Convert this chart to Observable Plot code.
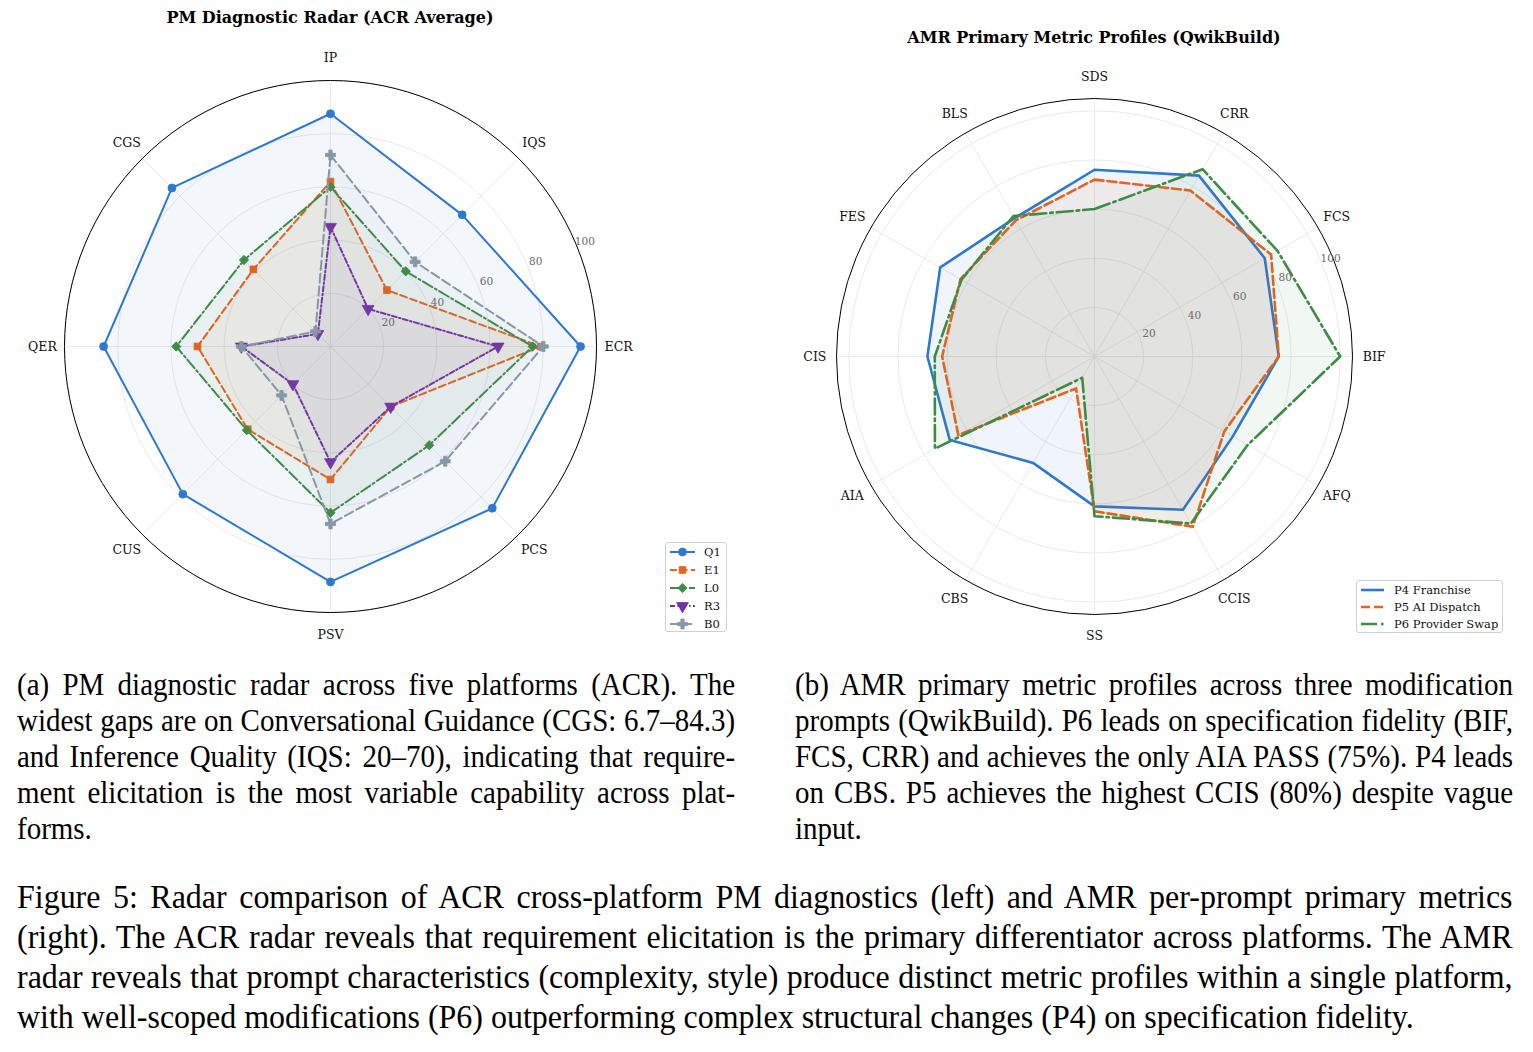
<!DOCTYPE html>
<html>
<head>
<meta charset="utf-8">
<script src="https://cdn.jsdelivr.net/npm/d3@7"></script>
<script src="https://cdn.jsdelivr.net/npm/@observablehq/plot@0.6"></script>
<style>
  html, body { margin: 0; padding: 0; background: #fff; }
  body { position: relative; width: 1533px; height: 1052px; overflow: hidden; }
  .abs { position: absolute; }
  .title { font-family: "DejaVu Serif"; font-weight: bold; font-size: 16px; color: #000;
           transform: translate(-50%, -50%); white-space: nowrap; }
  .cap { font-family: "Liberation Serif", "Times New Roman", serif; color: #000; transform-origin: 0 0; }
  .cap div { white-space: nowrap; text-align: justify; text-align-last: justify; }
  .cap div.last { text-align-last: left; }
  /* slightly condensed caption type, as set in the paper */
  .sub { font-size: 31px; line-height: 36px; width: 768px; transform: scaleX(0.935); }
  .fig { font-size: 34px; line-height: 40px; width: 1591px; transform: scaleX(0.94); }
  .legend { border: 1px solid #d0d0d0; border-radius: 3px; background: rgba(255,255,255,0.85);
            font-family: "DejaVu Serif"; font-size: 11.5px; color: #111; box-sizing: border-box; }
  .legend .row { position: absolute; left: 2px; display: flex; align-items: center; height: 14px; }
  .legend .row svg { display: block; }
  .legend .row span { white-space: nowrap; }
</style>
</head>
<body>
<script>
// ---------- ACR: PM diagnostic scores per platform ----------
const acrAxes = ["IP", "IQS", "ECR", "PCS", "PSV", "CUS", "QER", "CGS"];
const acrPlatforms = ["Q1", "E1", "L0", "R3", "B0"];
const acrQ1 = [87.5, 70, 94, 86, 88.5, 78.5, 85.3, 84.3];
const acrE1 = [62, 30, 79, 32, 50, 44, 50, 41];
const acrL0 = [60, 40, 76, 52.5, 62.5, 44.5, 58, 46];
const acrR3 = [45, 20, 63, 32, 43.5, 20, 33.5, 6.7];
const acrB0 = [72, 45, 80, 61, 66.7, 26, 33.5, 8];
const acrTicks = [20, 40, 60, 80, 100];

// ---------- AMR: primary metrics per modification prompt (QwikBuild) ----------
const amrAxes = ["SDS", "CRR", "FCS", "BIF", "AFQ", "CCIS", "SS", "CBS", "AIA", "CIS", "FES", "BLS"];
const amrPrompts = ["P4 Franchise", "P5 AI Dispatch", "P6 Provider Swap"];
const amrP4 = [76, 85, 80, 75, 65, 72, 61, 50, 68, 68, 72.5, 65];
const amrP5 = [72, 78, 83, 75, 61, 80, 63, 15, 64, 62, 63, 64];
const amrP6 = [60, 88, 86, 100, 72, 78.5, 65, 10, 75, 65, 62.5, 66];
const amrTicks = [20, 40, 60, 80, 100];

// downward-pointing triangle marker
const triangleDown = {
  draw(context, size) {
    const y = -Math.sqrt(size / (Math.sqrt(3) * 3));
    const s3 = Math.sqrt(3);
    context.moveTo(0, -y * 2);
    context.lineTo(-s3 * y, y);
    context.lineTo(s3 * y, y);
    context.closePath();
  }
};

function radarChart({axes, series, rMax, ticks, tickOffset, labelR, width, height, margin, fillOpacity}) {
  const n = axes.length;
  const ang = i => 2 * Math.PI * i / n;           // clockwise from the top
  const px = (v, i) => v * Math.sin(ang(i));
  const py = (v, i) => v * Math.cos(ang(i));
  const R = (width - margin.left - margin.right) / 2;
  const tickAng = 67.5 * Math.PI / 180;

  const marks = [
    // grid rings and spokes
    Plot.dot(ticks, {x: () => 0, y: () => 0, r: d => d, fill: "none", stroke: "#e4e4e4", strokeWidth: 0.8}),
    Plot.link(axes, {x1: () => 0, y1: () => 0, x2: (d, i) => px(rMax, i), y2: (d, i) => py(rMax, i),
                     stroke: "#e4e4e4", strokeWidth: 0.8}),
    // outer frame
    Plot.dot([rMax], {x: () => 0, y: () => 0, r: d => d, fill: "none", stroke: "#000", strokeWidth: 1})
  ];

  for (const s of series) {
    const rows = s.values.map((v, i) => ({v, i}));
    marks.push(Plot.line(rows, {
      x: d => px(d.v, d.i), y: d => py(d.v, d.i), curve: "linear-closed",
      stroke: s.color, strokeWidth: s.width, strokeDasharray: s.dash, strokeOpacity: s.opacity ?? 1,
      fill: s.color, fillOpacity, strokeLinejoin: "round"
    }));
    if (s.symbol) {
      marks.push(Plot.dot(rows, {
        x: d => px(d.v, d.i), y: d => py(d.v, d.i), symbol: s.symbol, r: s.r ?? 4,
        fill: s.color, stroke: s.color, strokeWidth: 0.8, fillOpacity: s.opacity ?? 1
      }));
    }
  }

  marks.push(
    Plot.text(ticks, {x: d => (d + tickOffset) * Math.sin(tickAng), y: d => (d + tickOffset) * Math.cos(tickAng),
                      text: d => String(d), fontSize: 10.5, fill: "#6a6a6a"}),
    Plot.text(axes, {x: (d, i) => px(labelR, i), y: (d, i) => py(labelR, i), text: d => d,
                     fontSize: 12.5, fill: "#111"})
  );

  return Plot.plot({
    width, height,
    marginLeft: margin.left, marginRight: margin.right, marginTop: margin.top, marginBottom: margin.bottom,
    x: {domain: [-rMax, rMax], axis: null},
    y: {domain: [-rMax, rMax], axis: null},
    r: {type: "linear", domain: [0, rMax], range: [0, R]},
    style: {fontFamily: "DejaVu Serif", background: "transparent", overflow: "visible"},
    marks
  });
}

const acrColors = ["#2f78cf", "#e8621f", "#3d8b45", "#7232a6", "#8797a6"];
const acrSeries = [
  {name: "Q1", values: acrQ1, color: acrColors[0], width: 2, dash: null, symbol: "circle", r: 4},
  {name: "E1", values: acrE1, color: acrColors[1], width: 2, dash: "7,3.5", symbol: "square", r: 3.8},
  {name: "L0", values: acrL0, color: acrColors[2], width: 2, dash: "11,3,2,3", symbol: "diamond2", r: 4.2},
  {name: "R3", values: acrR3, color: acrColors[3], width: 2, dash: "5,2.5,1.5,2.5", symbol: triangleDown, r: 4.4},
  {name: "B0", values: acrB0, color: acrColors[4], width: 2, dash: "9,4", symbol: "cross", r: 4.2}
];

const amrColors = ["#2f78cf", "#e8621f", "#3d8b45"];
const amrSeries = [
  {name: amrPrompts[0], values: amrP4, color: amrColors[0], width: 2.6, dash: null},
  {name: amrPrompts[1], values: amrP5, color: amrColors[1], width: 2.6, dash: "9,4"},
  {name: amrPrompts[2], values: amrP6, color: amrColors[2], width: 2.6, dash: "16,4,2.5,4"}
];

const left = radarChart({
  axes: acrAxes, series: acrSeries, rMax: 100, ticks: acrTicks, tickOffset: 3.5, labelR: 108.3,
  width: 760, height: 650, margin: {left: 64, right: 164, top: 80, bottom: 38}, fillOpacity: 0.06
});
left.style.position = "absolute"; left.style.left = "0px"; left.style.top = "0px";
document.body.appendChild(left);

const right = radarChart({
  axes: amrAxes, series: amrSeries, rMax: 105, ticks: amrTicks, tickOffset: 4, labelR: 113.8,
  width: 773, height: 650, margin: {left: 76, right: 181, top: 98, bottom: 36}, fillOpacity: 0.07
});
right.style.position = "absolute"; right.style.left = "760px"; right.style.top = "0px";
document.body.appendChild(right);

// ---------- titles ----------
function addDiv(cls, text, x, y) {
  const d = document.createElement("div");
  d.className = "abs " + cls;
  d.textContent = text;
  d.style.left = x + "px"; d.style.top = y + "px";
  document.body.appendChild(d);
  return d;
}
addDiv("title", "PM Diagnostic Radar (ACR Average)", 330, 17);
addDiv("title", "AMR Primary Metric Profiles (QwikBuild)", 1094, 37);

// ---------- legends ----------
function swatch(s, w) {
  const ns = "http://www.w3.org/2000/svg";
  const svg = document.createElementNS(ns, "svg");
  svg.setAttribute("width", w); svg.setAttribute("height", 14);
  const ln = document.createElementNS(ns, "line");
  ln.setAttribute("x1", 2); ln.setAttribute("x2", w - 2); ln.setAttribute("y1", 7); ln.setAttribute("y2", 7);
  ln.setAttribute("stroke", s.color); ln.setAttribute("stroke-width", s.width);
  if (s.dash) ln.setAttribute("stroke-dasharray", s.dash);
  svg.appendChild(ln);
  if (s.symbol) {
    const sym = typeof s.symbol === "string"
      ? {circle: d3.symbolCircle, square: d3.symbolSquare, diamond2: d3.symbolDiamond2, cross: d3.symbolCross}[s.symbol]
      : s.symbol;
    const r = s.r ?? 4;
    const p = document.createElementNS(ns, "path");
    p.setAttribute("d", d3.symbol(sym, Math.PI * r * r)());
    p.setAttribute("transform", `translate(${w / 2},7)`);
    p.setAttribute("fill", s.color); p.setAttribute("stroke", s.color); p.setAttribute("stroke-width", 0.8);
    svg.appendChild(p);
  }
  return svg;
}
function addLegend(series, x, y, w, h, rowYs, swW, gap) {
  const box = document.createElement("div");
  box.className = "abs legend";
  Object.assign(box.style, {left: x + "px", top: y + "px", width: w + "px", height: h + "px"});
  series.forEach((s, k) => {
    const row = document.createElement("div");
    row.className = "row";
    row.style.top = (rowYs[k] - 7) + "px";
    row.appendChild(swatch(s, swW));
    const t = document.createElement("span");
    t.textContent = s.name; t.style.marginLeft = gap + "px";
    row.appendChild(t);
    box.appendChild(row);
  });
  document.body.appendChild(box);
}
addLegend(acrSeries, 665, 542, 62, 90, [9, 27, 45, 63, 81], 29, 7);
addLegend(amrSeries, 1356, 580, 147, 53, [9, 26, 43], 27, 8);

// ---------- captions ----------
function addCaption(cls, lines, x, y) {
  const box = document.createElement("div");
  box.className = "abs cap " + cls;
  box.style.left = x + "px"; box.style.top = y + "px";
  lines.forEach((l, k) => {
    const d = document.createElement("div");
    d.textContent = l;
    if (k === lines.length - 1) d.className = "last";
    box.appendChild(d);
  });
  document.body.appendChild(box);
}
addCaption("sub", [
  "(a) PM diagnostic radar across five platforms (ACR). The",
  "widest gaps are on Conversational Guidance (CGS: 6.7–84.3)",
  "and Inference Quality (IQS: 20–70), indicating that require-",
  "ment elicitation is the most variable capability across plat-",
  "forms."
], 17, 667);
addCaption("sub", [
  "(b) AMR primary metric profiles across three modification",
  "prompts (QwikBuild). P6 leads on specification fidelity (BIF,",
  "FCS, CRR) and achieves the only AIA PASS (75%). P4 leads",
  "on CBS. P5 achieves the highest CCIS (80%) despite vague",
  "input."
], 795, 667);
addCaption("fig", [
  "Figure 5: Radar comparison of ACR cross-platform PM diagnostics (left) and AMR per-prompt primary metrics",
  "(right). The ACR radar reveals that requirement elicitation is the primary differentiator across platforms. The AMR",
  "radar reveals that prompt characteristics (complexity, style) produce distinct metric profiles within a single platform,",
  "with well-scoped modifications (P6) outperforming complex structural changes (P4) on specification fidelity."
], 17, 877);
</script>
</body>
</html>
